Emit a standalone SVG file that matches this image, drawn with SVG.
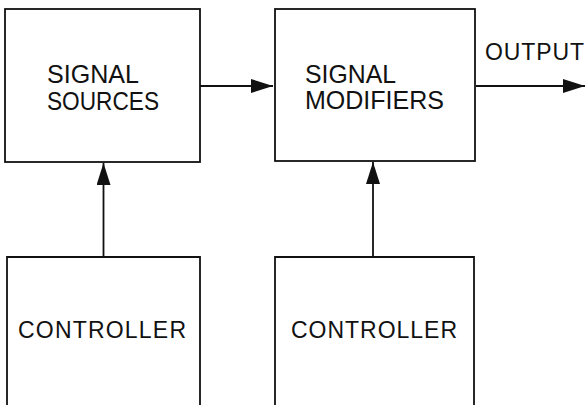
<svg xmlns="http://www.w3.org/2000/svg" width="588" height="405" viewBox="0 0 588 405">
<defs>
<style>
.box{fill:none;stroke:#111;stroke-width:1.8}
.lbl{font-family:"Liberation Sans",Arial,sans-serif;font-size:25px;fill:#111}
.small{font-size:23px}
.con{fill:none;stroke:#111;stroke-width:1.8}
</style>
<marker id="ah" markerWidth="24" markerHeight="14" refX="22" refY="7" orient="auto" markerUnits="userSpaceOnUse">
<path d="M0,0 L22,7 L0,14 Z" fill="#111"/>
</marker>
</defs>
<rect width="588" height="405" fill="#fff"/>
<g id="signal-sources">
<rect class="box" x="5" y="9" width="195" height="153"/>
<text class="lbl" x="47" y="83" textLength="92" lengthAdjust="spacingAndGlyphs">SIGNAL</text>
<text class="lbl" x="47" y="110" textLength="112" lengthAdjust="spacingAndGlyphs">SOURCES</text>
</g>
<g id="signal-modifiers">
<rect class="box" x="275" y="9" width="200" height="152"/>
<text class="lbl" x="305" y="83" textLength="91" lengthAdjust="spacingAndGlyphs">SIGNAL</text>
<text class="lbl" x="305" y="109" textLength="139" lengthAdjust="spacingAndGlyphs">MODIFIERS</text>
</g>
<g id="controller-1">
<path class="box" d="M7,410 V257 H200 V410"/>
<text class="lbl small" x="18" y="338" textLength="168">CONTROLLER</text>
</g>
<g id="controller-2">
<path class="box" d="M275,410 V257 H474 V410"/>
<text class="lbl small" x="291" y="338" textLength="166">CONTROLLER</text>
</g>
<g id="output-label">
<text class="lbl small" x="485" y="60" textLength="99">OUTPUT</text>
</g>
<g id="connectors">
<line class="con" x1="200" y1="86" x2="273" y2="86" marker-end="url(#ah)"/>
<line class="con" x1="476" y1="86" x2="585" y2="86" marker-end="url(#ah)"/>
<line class="con" x1="103.5" y1="257" x2="103.5" y2="163" marker-end="url(#ah)"/>
<line class="con" x1="373" y1="257" x2="373" y2="162" marker-end="url(#ah)"/>
</g>
</svg>
